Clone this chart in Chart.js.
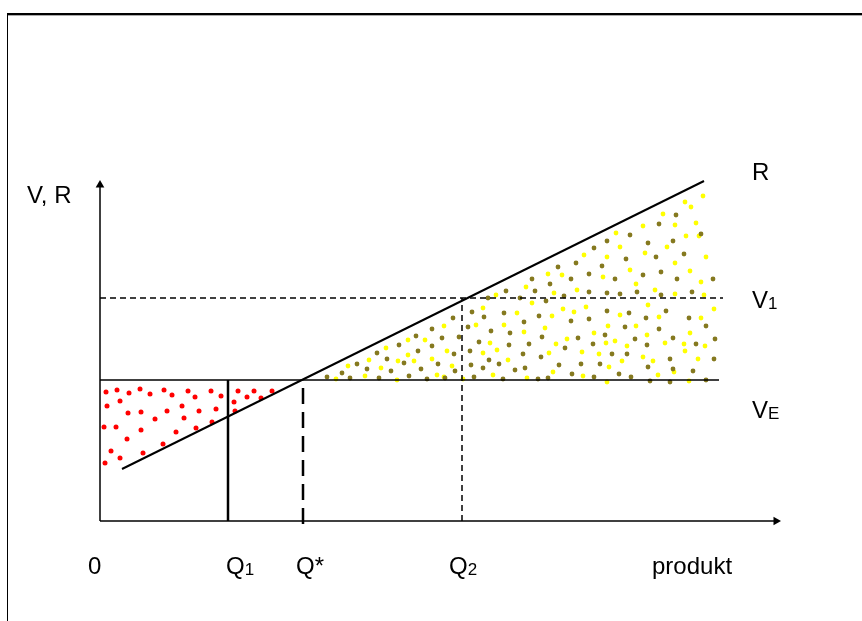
<!DOCTYPE html>
<html>
<head>
<meta charset="utf-8">
<title>V, R</title>
<script src="https://cdn.jsdelivr.net/npm/chart.js@4"></script>
<style>
  html, body { margin: 0; padding: 0; background: #fff; }
  #wrap { position: relative; width: 862px; height: 621px; overflow: hidden; }
  #frame {
    position: absolute; left: 7px; top: 13px; right: -4px; bottom: -4px;
    border-top: 2px solid #000; border-left: 1.5px solid #000;
    box-shadow: inset 0 1px 0 #aaa;
  }
  canvas { position: absolute; left: 0; top: 0; }
</style>
</head>
<body>
<div id="wrap">
  <div id="frame"></div>
  <canvas id="chart" width="862" height="621"></canvas>
</div>
<script>
// quantities on the x axis
const qTicks = [0, 12.8, 20.3, 36.2];
const qLabels = ['0', 'Q1', 'Q*', 'Q2'];
const xMax = 68;
const yMax = 34;

// value levels
const vE = 14.1;
const v1 = 22.3;
const vEEnd = 61.9;
const v1End = 62.3;

// revenue line R
const rX = [2.2, 60.4];
const rY = [5.2, 34.0];

// dotted fill: loss area (red)
const redDots = [
  [0.6, 12.9], [1.7, 13.1], [2.9, 12.8], [4.0, 13.2], [5.0, 12.7], [6.4, 13.1], [7.2, 12.6],
  [8.8, 13.0], [9.5, 12.4], [11.1, 13.0], [12.1, 12.5], [0.7, 11.5], [2.0, 12.0], [2.8, 10.8],
  [4.1, 10.9], [6.7, 11.0], [8.2, 11.5], [9.9, 11.0], [11.6, 11.2], [5.5, 10.2], [8.4, 10.3],
  [0.4, 9.4], [1.6, 9.4], [4.1, 9.1], [7.6, 8.9], [9.6, 9.3], [11.2, 9.9], [2.7, 8.2],
  [6.3, 7.7], [1.1, 7.0], [2.0, 6.3], [4.3, 6.8], [0.5, 5.8], [13.8, 13.0], [15.4, 13.0],
  [17.2, 13.0], [13.4, 11.9], [14.7, 12.4], [16.1, 12.3], [13.5, 11.0]
];

// dotted fill: gain area (olive)
const oliveDots = [
  [38.8, 22.3], [37.2, 20.9], [35.3, 20.3], [38.4, 20.4], [33.2, 19.2], [36.8, 19.4], [39.1, 19.0],
  [31.6, 18.5], [34.2, 18.3], [35.9, 18.4], [29.9, 17.6], [33.2, 17.5], [37.9, 17.9], [27.7, 16.8],
  [31.8, 17.0], [35.4, 16.7], [37.0, 17.0], [28.7, 16.2], [25.7, 15.7], [30.4, 15.8], [33.8, 15.7],
  [37.1, 15.6], [38.9, 16.1], [39.9, 15.7], [26.7, 15.2], [29.1, 15.0], [32.1, 15.2], [35.5, 15.0],
  [38.3, 15.3], [24.2, 14.8], [30.9, 14.5], [22.7, 14.4], [25.0, 14.3], [27.9, 14.3], [32.7, 14.2],
  [34.5, 14.3], [37.4, 14.4],
  [57.6, 30.6], [55.9, 29.7], [60.1, 28.7], [53.0, 28.6], [50.7, 28.0], [54.8, 27.8], [57.3, 28.0],
  [49.4, 27.3], [58.4, 26.7], [52.6, 26.2], [55.6, 26.4], [47.6, 25.8], [45.8, 25.4], [50.2, 25.5],
  [48.9, 24.7], [54.3, 24.6], [56.1, 24.9], [43.2, 24.2], [47.1, 24.2], [51.5, 24.2], [57.7, 24.2],
  [61.3, 24.2], [45.0, 23.7], [43.5, 23.0], [40.6, 23.0], [48.9, 22.9], [50.7, 22.8], [52.0, 22.7],
  [53.7, 22.9], [56.1, 22.6], [59.2, 22.9], [42.0, 22.3], [46.4, 22.5],
  [44.6, 22.0], [40.4, 20.8], [43.9, 20.5], [50.7, 21.0], [52.9, 20.8], [54.6, 20.3], [56.6, 21.0],
  [58.9, 20.3], [42.4, 19.9], [47.1, 20.0], [48.9, 20.2], [52.5, 19.4], [60.6, 19.5], [41.0, 18.8],
  [44.2, 18.4], [47.8, 18.3], [50.5, 18.6], [53.5, 18.2], [55.9, 19.2], [57.3, 18.3], [61.5, 18.2],
  [40.9, 17.6], [42.9, 17.7], [49.3, 17.7], [54.7, 17.6], [59.6, 17.7], [42.3, 16.7], [46.5, 17.3],
  [51.2, 16.7], [52.7, 16.7], [57.0, 16.2], [61.4, 16.2], [44.1, 16.4], [45.9, 15.6], [48.1, 15.7],
  [50.0, 15.7], [54.8, 15.4], [57.3, 15.2], [59.3, 15.0], [41.5, 15.1], [42.5, 15.3], [40.3, 14.2],
  [43.8, 14.2], [44.8, 14.3], [47.2, 14.7], [49.4, 14.4], [51.9, 14.7], [53.1, 14.4], [60.6, 14.1],
  [55.0, 14.0], [57.0, 13.9]
];

// dotted fill: gain area (yellow)
const yellowDots = [
  [39.6, 22.6], [38.3, 21.3], [34.4, 19.5], [37.6, 19.6], [32.5, 18.1], [30.8, 18.1], [28.6, 17.3],
  [39.0, 17.8], [39.7, 17.1], [34.7, 17.0], [38.3, 16.8], [30.8, 16.6], [26.9, 16.1], [24.8, 15.5],
  [29.8, 16.0], [31.4, 16.0], [33.2, 16.2], [35.2, 15.5], [28.1, 15.3], [26.5, 14.5], [33.7, 14.6],
  [34.4, 14.4], [39.3, 14.6], [23.6, 14.2], [29.7, 14.1], [36.3, 14.2],
  [60.3, 32.5], [58.5, 31.9], [59.1, 31.4], [56.3, 30.7], [54.3, 29.5], [57.5, 29.6], [59.6, 29.8],
  [59.9, 28.5], [51.6, 28.8], [58.6, 28.5], [52.0, 27.4], [56.7, 27.4], [54.5, 26.8], [48.4, 26.6],
  [50.7, 26.4], [60.6, 26.4], [57.5, 25.8], [44.8, 24.7], [46.2, 24.6], [53.0, 25.1], [59.0, 25.0],
  [50.3, 24.4], [60.1, 23.9], [53.6, 23.7], [42.6, 23.4], [45.4, 22.8], [47.7, 23.1], [55.5, 23.1],
  [57.5, 22.7], [60.4, 22.6],
  [43.2, 21.8], [54.8, 21.6], [61.4, 21.2], [41.7, 20.8], [45.2, 20.5], [46.3, 21.2], [47.4, 20.9],
  [48.6, 21.4], [52.0, 20.6], [55.9, 20.4], [60.1, 20.3], [40.4, 19.6], [50.8, 19.5], [53.6, 19.5],
  [42.4, 18.9], [44.5, 19.3], [46.7, 18.2], [49.4, 18.8], [51.5, 18.0], [54.7, 18.6], [59.0, 18.8],
  [45.6, 17.7], [50.6, 17.8], [52.7, 17.5], [56.5, 17.8], [58.4, 17.7], [60.5, 17.5], [44.9, 16.8],
  [48.2, 16.9], [49.9, 16.7], [54.3, 16.4], [55.3, 16.0], [58.5, 17.0], [59.8, 16.2], [40.8, 16.1],
  [50.9, 15.4], [52.2, 16.0], [45.3, 14.9], [42.7, 14.3], [48.3, 14.5], [55.8, 14.6], [57.4, 14.9],
  [58.9, 14.0], [50.7, 13.9]
];

const pts = arr => arr.map(p => ({ x: p[0], y: p[1] }));

function lineSet(data, width, dash) {
  return {
    data: data,
    showLine: true,
    borderColor: '#000',
    borderWidth: width,
    borderDash: dash || [],
    pointRadius: 0,
    clip: false
  };
}

function dotSet(arr, color, r) {
  return {
    data: pts(arr),
    showLine: false,
    backgroundColor: color,
    borderWidth: 0,
    pointRadius: r,
    clip: false
  };
}

// axis with arrow head on the last point
function axisSet(data, rot) {
  return {
    data: data,
    showLine: true,
    borderColor: '#000',
    backgroundColor: '#000',
    borderWidth: 1.5,
    pointRadius: [0, 5],
    pointStyle: 'triangle',
    rotation: rot,
    pointBorderWidth: 0,
    clip: false
  };
}

// text labels, drawn with the scales
const textLabels = [
  { t: 'V, R', s: '', x: -7.3, y: 31.8 },
  { t: 'R', s: '', x: 65.2, y: 34.1 },
  { t: 'V', s: '1', x: 65.2, y: 21.3 },
  { t: 'V', s: 'E', x: 65.2, y: 10.3 },
  { t: qLabels[0], s: '', x: qTicks[0] - 1.2, y: -5.3 },
  { t: qLabels[1][0], s: qLabels[1][1], x: qTicks[1] - 0.2, y: -5.3 },
  { t: qLabels[2], s: '', x: qTicks[2] - 0.7, y: -5.3 },
  { t: qLabels[3][0], s: qLabels[3][1], x: qTicks[3] - 1.3, y: -5.3 },
  { t: 'produkt', s: '', x: 55.2, y: -5.3 }
];

const labelPlugin = {
  id: 'textLabels',
  afterDatasetsDraw(chart) {
    const { ctx, scales: { x, y } } = chart;
    ctx.save();
    ctx.fillStyle = '#000';
    ctx.textBaseline = 'alphabetic';
    ctx.textAlign = 'left';
    textLabels.forEach(l => {
      const px = x.getPixelForValue(l.x);
      const py = y.getPixelForValue(l.y);
      ctx.font = '24px "Liberation Sans", Arial, sans-serif';
      ctx.fillText(l.t, px, py);
      if (l.s) {
        const w = ctx.measureText(l.t).width;
        ctx.font = '17px "Liberation Sans", Arial, sans-serif';
        ctx.fillText(l.s, px + w, py + 1);
      }
    });
    ctx.restore();
  }
};

new Chart(document.getElementById('chart'), {
  type: 'scatter',
  data: {
    datasets: [
      lineSet([{ x: rX[0], y: rY[0] }, { x: rX[1], y: rY[1] }], 2),
      lineSet([{ x: 0, y: vE }, { x: vEEnd, y: vE }], 1.5),
      lineSet([{ x: 0, y: v1 }, { x: v1End, y: v1 }], 1.5, [6, 4]),
      lineSet([{ x: qTicks[1], y: 0 }, { x: qTicks[1], y: vE }], 2.5),
      lineSet([{ x: qTicks[2], y: -0.3 }, { x: qTicks[2], y: vE }], 2.5, [16, 8]),
      lineSet([{ x: qTicks[3], y: 0 }, { x: qTicks[3], y: v1 }], 1.5, [6, 4]),
      axisSet([{ x: 0, y: 0 }, { x: 0, y: yMax - 0.4 }], 0),
      axisSet([{ x: 0, y: 0 }, { x: xMax - 0.4, y: 0 }], 90),
      dotSet(redDots, '#ff0000', 2.5),
      dotSet(oliveDots, '#85791f', 2.4),
      dotSet(yellowDots, '#ffff00', 2.4)
    ]
  },
  options: {
    responsive: false,
    animation: false,
    layout: { padding: { left: 100, right: 82, top: 181, bottom: 100 } },
    plugins: {
      legend: { display: false },
      tooltip: { enabled: false }
    },
    scales: {
      x: { type: 'linear', min: 0, max: xMax, display: false },
      y: { type: 'linear', min: 0, max: yMax, display: false }
    }
  },
  plugins: [labelPlugin]
});
</script>
</body>
</html>
